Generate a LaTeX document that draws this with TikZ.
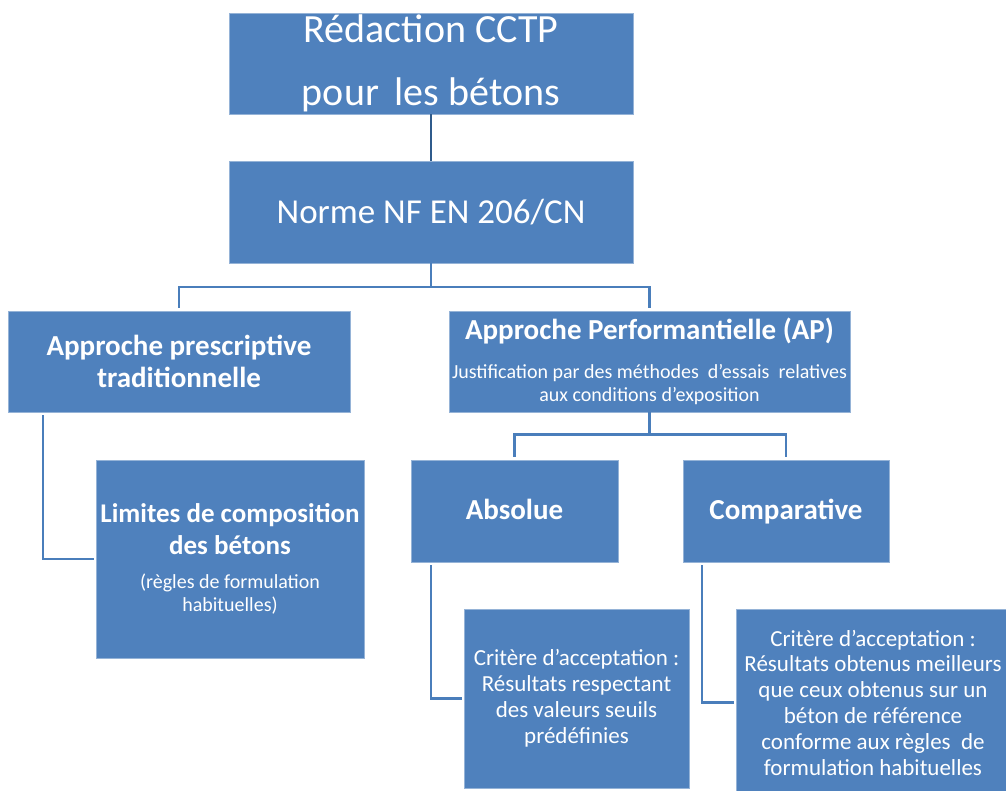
\documentclass[tikz,border=0pt]{standalone}
\usepackage{fontspec}
\setmainfont{Carlito}
\usepackage{tikz}
\usetikzlibrary{arrows.meta}
\definecolor{boxblue}{HTML}{4F81BD}
\definecolor{lineblue}{HTML}{4A7EBB}
\definecolor{darkline}{HTML}{2F5B8C}
\newcommand{\fs}[2]{\fontsize{#1}{#2}\selectfont}
\tikzset{
  bloc/.style={fill=boxblue, draw=boxblue!60!white, line width=0.8pt, text=white, align=center, inner sep=0pt},
  lien/.style={draw=lineblue, line width=2.2pt},
}

\begin{document}
\begin{tikzpicture}[x=1pt, y=-1pt]
    \useasboundingbox (0,0) rectangle (1006,791);
    \node[bloc, minimum width=404, minimum height=101, font=\fs{40}{63}] (red) at (431, 63.5){Rédaction CCTP\\pour\, les bétons};
    \node[bloc, minimum width=404, minimum height=102, font=\fs{35}{40}] (norme) at (431, 212){Norme NF EN 206/CN};
    \node[bloc, minimum width=342, minimum height=101, font=\fs{29}{32}\bfseries] (presc) at (179, 361.5){Approche prescriptive\\traditionnelle};
    \node[bloc, minimum width=401, minimum height=101, font=\fs{20}{23}] (perf) at (649.5, 361.5){{\fs{29}{32}\bfseries Approche Performantielle (AP)}\\[16pt]Justification par des méthodes\ \ d’essais\ \ relatives\\aux conditions d’exposition};
    \node[bloc, minimum width=268, minimum height=198, font=\fs{20}{23}] (lim) at (230, 559){{\fs{27}{31}\bfseries Limites de composition}\\[8pt]{\fs{27}{31}\bfseries des bétons}\\[11pt](règles de formulation\\habituelles)};
    \node[bloc, minimum width=207, minimum height=102, text height=21, text depth=4, font=\fs{29}{32}\bfseries] (abs) at (514.5, 511){Absolue};
    \node[bloc, minimum width=206, minimum height=102, text height=21, text depth=4, font=\fs{29}{32}\bfseries] (comp) at (786, 511){Comparative};
    \node[bloc, minimum width=225, minimum height=179, font=\fs{23}{26}] (crit1) at (576.5, 698.5){Critère d’acceptation :\\Résultats respectant\\des valeurs seuils\\prédéfinies};
    \node[bloc, minimum width=274, minimum height=187, font=\fs{23}{25.8}] (crit2) at (873, 702.5){Critère d’acceptation :\\Résultats obtenus meilleurs\\que ceux obtenus sur un\\béton de référence\\conforme aux règles\ \ de\\formulation habituelles};
    \draw[lien, draw=darkline, line width=1.6pt] (red)--(norme);
    \draw[lien] (norme.south)--++(0,24) -| ([yshift=3]presc.north);
    \draw[lien] (norme.south)--++(0,24) -| ([yshift=3]perf.north);
    \draw[lien] (perf.south)--++(0,22) -| ([yshift=3]abs.north);
    \draw[lien] (perf.south)--++(0,22) -| ([yshift=3]comp.north);
    \draw[lien] ([xshift=35, yshift=-3]presc.south west) |- ([xshift=-2]lim.west);
    \draw[lien] ([xshift=20, yshift=-3]abs.south west) |- ([xshift=-2]crit1.west);
    \draw[lien] ([xshift=19, yshift=-3]comp.south west) |- ([xshift=-2]crit2.west);
  \end{tikzpicture}
\end{document}
